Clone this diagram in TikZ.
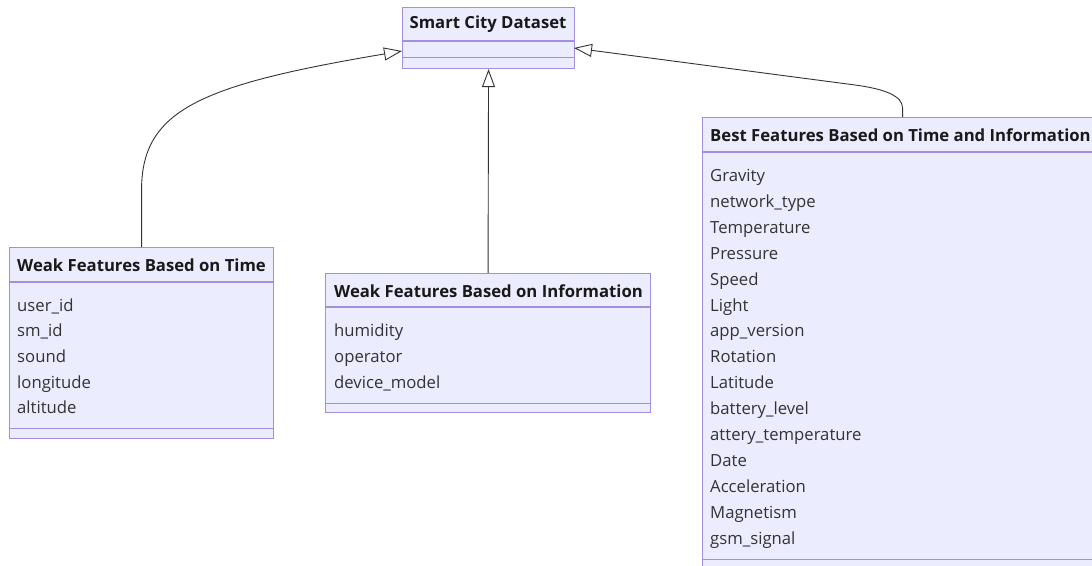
\documentclass[tikz,border=0pt]{standalone}
\usepackage{fontspec}
\setmainfont{Open Sans}
\usetikzlibrary{arrows.meta}
\definecolor{classfill}{HTML}{ECECFF}
\definecolor{classline}{HTML}{A38EE0}
\definecolor{edgeline}{HTML}{333333}
\tikzset{
  classbox/.style={draw=classline, fill=classfill, line width=1.1pt, rectangle, inner sep=0pt, anchor=north west},
  sepline/.style={draw=classline, line width=1.1pt},
  head/.style={anchor=west, inner sep=0pt, text=black!90, font=\bfseries\fontsize{16.7}{20}\selectfont},
  item/.style={anchor=west, inner sep=0pt, text=black!80, text height=15pt, text depth=3pt, font=\fontsize{16.7}{20}\selectfont},
  inherit/.style={draw=edgeline, line width=0.9pt, -{Triangle[open, length=18pt, width=13pt, fill=white]}}
}
\begin{document}
\begin{tikzpicture}[x=1pt, y=-1pt]
      \useasboundingbox (0,0) rectangle (1092,565);
      % class boxes
      \node[classbox, minimum width=172pt, minimum height=61pt] (dataset) at (402,7) {};
      \node[classbox, minimum width=264pt, minimum height=191pt] (time) at (9,247) {};
      \node[classbox, minimum width=325pt, minimum height=139pt] (info) at (325,273) {};
      \node[classbox, minimum width=400pt, minimum height=452pt] (best) at (702,117) {};
      \begin{scope}[sepline]
        \draw (dataset.north west) ++(0,34) -- ++(172,0);
        \draw (dataset.south west) ++(0,-12) -- ++(172,0);
        \draw (time.north west) ++(0,35) -- ++(264,0);
        \draw (time.south west) ++(0,-11) -- ++(264,0);
        \draw (info.north west) ++(0,34) -- ++(325,0);
        \draw (info.south west) ++(0,-10) -- ++(325,0);
        \draw (best.north west) ++(0,35) -- ++(400,0);
        \draw (best.south west) ++(0,-11) -- ++(400,0);
      \end{scope}
      % headers
      \node[head, anchor=center] (dataset-h) at (488,24) {Smart City Dataset};
      \node[head] (time-h) at (17,265) {Weak Features Based on Time};
      \node[head] (info-h) at (334,291) {Weak Features Based on Information};
      \node[head] (best-h) at (710,135) {Best Features Based on Time and Information};
      % attributes
      \path
        (17,305) node[item] (t1) {user\_id}
        (17,330) node[item] (t2) {sm\_id}
        (17,356) node[item] (t3) {sound}
        (17,382) node[item] (t4) {longitude}
        (17,407) node[item] (t5) {altitude};
      \path
        (334,330) node[item] (i1) {humidity}
        (334,356) node[item] (i2) {operator}
        (334,382) node[item] (i3) {device\_model};
      \path
        (710,175) node[item] (b1) {Gravity}
        (710,201) node[item] (b2) {network\_type}
        (710,227) node[item] (b3) {Temperature}
        (710,253) node[item] (b4) {Pressure}
        (710,279) node[item] (b5) {Speed}
        (710,305) node[item] (b6) {Light}
        (710,330) node[item] (b7) {app\_version}
        (710,356) node[item] (b8) {Rotation}
        (710,382) node[item] (b9) {Latitude}
        (710,408) node[item] (b10) {battery\_level}
        (710,434) node[item] (b11) {attery\_temperature}
        (710,460) node[item] (b12) {Date}
        (710,486) node[item] (b13) {Acceleration}
        (710,512) node[item] (b14) {Magnetism}
        (710,538) node[item] (b15) {gsm\_signal};
      % inheritance arrows
      \coordinate (inL) at (402,51);
      \coordinate (inR) at (574,48);
      \begin{scope}[inherit]
        \draw (time.north) -- ++(0,-57) .. controls ++(0,-80) and (200,85) .. (inL);
        \draw (info.north) -- (dataset.south);
        \draw (best.north) -- ++(0,-9) .. controls ++(0,-12) and (885,89) .. (855,85) -- (inR);
      \end{scope}
    \end{tikzpicture}
\end{document}
